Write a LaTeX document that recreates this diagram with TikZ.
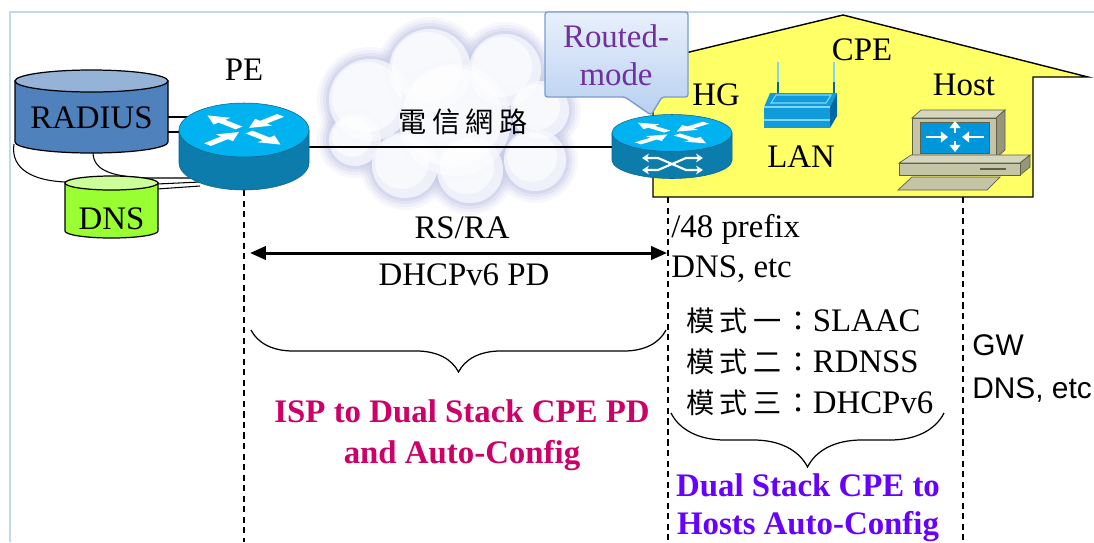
\documentclass[tikz,border=0pt]{standalone}
\usepackage{fontspec}
\setmainfont{Liberation Serif}
\setsansfont{Liberation Sans}
\newfontfamily\cjk{Noto Sans CJK TC}
\usetikzlibrary{arrows.meta,decorations.pathreplacing}

\definecolor{frameblue}{RGB}{197,215,238}
\definecolor{houseyellow}{RGB}{255,255,102}
\definecolor{radside}{RGB}{79,129,189}
\definecolor{radtop}{RGB}{149,179,215}
\definecolor{dnsside}{RGB}{153,255,51}
\definecolor{dnstop}{RGB}{204,255,153}
\definecolor{rtop}{RGB}{0,178,240}
\definecolor{rside}{RGB}{12,124,172}
\definecolor{cloudedge}{RGB}{200,205,232}
\definecolor{cloudbody}{RGB}{246,247,253}
\definecolor{calloutedge}{RGB}{120,158,208}
\definecolor{callouttop}{RGB}{232,240,251}
\definecolor{calloutbot}{RGB}{184,208,240}
\definecolor{routedpurple}{RGB}{112,48,160}
\definecolor{ispmagenta}{RGB}{204,0,102}
\definecolor{cpeviolet}{RGB}{102,0,255}
\definecolor{lanblue}{RGB}{16,156,218}
\definecolor{landark}{RGB}{0,104,160}
\definecolor{lanlight}{RGB}{130,214,244}
\definecolor{pcface}{RGB}{196,196,166}
\definecolor{pctop}{RGB}{214,214,190}
\definecolor{pcside}{RGB}{150,150,120}
\definecolor{pcline}{RGB}{95,95,75}
\definecolor{screenblue}{RGB}{0,150,220}

% cylinder: centre x, top y, bottom y, rx, ry, side colour, top colour, extra options
\newcommand\dbcyl[8]{%
  \path[fill=#6,#8] (#1-#4,#2) -- (#1-#4,#3)
     arc[start angle=180,end angle=0,x radius=#4,y radius=#5] -- (#1+#4,#2) -- cycle;
  \path[fill=#7,#8] (#1,#2) ellipse[x radius=#4,y radius=#5];
}
% white arrows on the top face of a router symbol
\newcommand\routerarrows[4]{%
  \begin{scope}[shift={(#1,#2)},xscale=#3,yscale=#4]
    \foreach \a in {135,315}{% outward
      \fill[white,rotate=\a] (0.12,-0.08) -- (0.52,-0.08) -- (0.52,-0.2) -- (0.86,0)
        -- (0.52,0.2) -- (0.52,0.08) -- (0.12,0.08) -- cycle;}
    \foreach \a in {45,225}{% inward
      \fill[white,rotate=\a] (0.86,-0.08) -- (0.46,-0.08) -- (0.46,-0.2) -- (0.12,0)
        -- (0.46,0.2) -- (0.46,0.08) -- (0.86,0.08) -- cycle;}
  \end{scope}
}
\newcommand\cloudpuffs{370/100/45,430/70/45,505/70/40,540/110/33,535/160/35,
  470/170/37,405/165/37,355/140/30,455/120/60}

\tikzset{
  txt/.style={inner sep=0pt,font=\fontsize{18.7}{22}\selectfont},
  bold/.style={txt,font=\fontsize{18.7}{22}\selectfont\bfseries},
  conn/.style={draw=black,line width=0.6pt},
  guide/.style={draw=black,line width=0.6pt,dash pattern=on 3.5pt off 2.5pt},
  bracepath/.style={draw=black,line width=0.7pt,decorate,
     decoration={brace,mirror,amplitude=#1}},
}

\begin{document}
\begin{tikzpicture}[x=0.02cm,y=-0.02cm]
\useasboundingbox (0,0) rectangle (1094,542);
\fill[white] (0,0) rectangle (1094,542);

% slide frame
\draw[frameblue,line width=1.7pt] (10,542) -- (10,12) -- (1094,12);

% customer premises (house)
\draw[fill=houseyellow,line width=0.8pt] (653,197) -- (653,76) -- (598,74) -- (843,15)
   -- (1088,77) -- (1033,77) -- (1033,197) -- cycle;

% telecom network cloud, soft rim first, then the body
\foreach \r/\o in {10/0.12,7/0.2,4/0.3,1/0.45}{
  \foreach \cx/\cy/\rad in \cloudpuffs{
    \fill[cloudedge,opacity=\o] (\cx,\cy) circle[radius=\rad+\r-2];}}
\foreach \cx/\cy/\rad in \cloudpuffs{
  \fill[cloudbody,opacity=0.8] (\cx,\cy) circle[radius=\rad-4];}
\foreach \cx/\cy/\rad in \cloudpuffs{
  \fill[white,opacity=0.6] (\cx-3,\cy-3) circle[radius=\rad-10];}
\node[txt,font=\cjk\fontsize{16}{18}\selectfont] (net) at (463,122)
   {電\hspace{3pt}信\hspace{3pt}網\hspace{3pt}路};

% vertical timeline guides
\coordinate (pe-bot) at (244,190);
\coordinate (pe-end) at (244,542);
\coordinate (hg-bot) at (668,197);
\coordinate (hg-end) at (668,542);
\coordinate (host-bot) at (963,197);
\coordinate (host-end) at (963,542);
\draw[guide] (pe-bot) -- (pe-end);
\draw[guide] (hg-bot) -- (hg-end);
\draw[guide] (host-bot) -- (host-end);

% PE -- HG link
\coordinate (pe-e) at (300,147);
\coordinate (hg-w) at (620,147);
\draw[conn,line width=0.8pt] (pe-e) -- (hg-w);

% RADIUS / DNS links to PE
\coordinate (rad-e1) at (167,117);
\coordinate (rad-e2) at (167,132);
\coordinate (pe-w1) at (195,117);
\coordinate (pe-w2) at (195,132);
\coordinate (rad-sw) at (14,144);
\coordinate (rad-s) at (93,152);
\coordinate (dns-nw) at (66,182);
\coordinate (dns-ne1) at (157,184);
\coordinate (dns-ne2) at (157,189);
\coordinate (pe-sw1) at (200,178);
\coordinate (pe-sw2) at (200,182);
\coordinate (pe-sw3) at (200,186);
\draw[conn] (rad-e1) -- (pe-w1);
\draw[conn] (rad-e2) -- (pe-w2);
\draw[conn] (rad-sw) .. controls (10,170) and (35,181) .. (dns-nw);
\draw[conn] (rad-s) .. controls (93,172) and (115,177) .. (150,178) -- (pe-sw1);
\draw[conn] (dns-ne1) -- (pe-sw2);
\draw[conn] (dns-ne2) -- (pe-sw3);

% RADIUS and DNS servers
\dbcyl{91.5}{81}{142}{76.5}{11}{radside}{radtop}{draw=black,line width=0.7pt}
\node[txt] (radius) at (91.5,118) {RADIUS};
\dbcyl{111.5}{183}{231}{46.5}{7}{dnsside}{dnstop}{draw=black,line width=0.7pt}
\node[txt] (dns) at (111.5,219) {DNS};

% PE router
\dbcyl{244}{130}{163}{65}{27}{rside}{rtop}{draw=rside!80!black,line width=0.3pt}
\routerarrows{244}{130}{60}{24}
\node[txt,anchor=base] (pe) at (244,80) {PE};

% HG router
\dbcyl{672}{133}{160}{60}{18.5}{rside}{rtop}{draw=rside!80!black,line width=0.3pt}
\routerarrows{672}{133}{56}{17}
\draw[white,line width=1.2pt,{Stealth[length=4pt,width=5pt]}-{Stealth[length=4pt,width=5pt]}]
  (642,158) -- (658,158) -- (686,170) -- (703,170);
\draw[white,line width=1.2pt,{Stealth[length=4pt,width=5pt]}-{Stealth[length=4pt,width=5pt]}]
  (642,170) -- (658,170) -- (686,158) -- (703,158);
\node[txt,anchor=base] (hg) at (716,105) {HG};

% Routed-mode callout
\shade[top color=callouttop,bottom color=calloutbot,draw=calloutedge,line width=0.8pt,
  rounded corners=1.5pt]
  (545,12) -- (688,12) -- (688,97) -- (662,97) -- (651,115) -- (625,97) -- (545,97) -- cycle;
\node[txt,text=routedpurple,anchor=base] (routed1) at (616,47) {Routed-};
\node[txt,text=routedpurple,anchor=base] (routed2) at (616,85) {mode};

% wireless LAN access point
\draw[lanlight,line width=1.2pt] (778,62) -- (778,82);
\draw[landark,line width=1.2pt] (778,82) -- (778,97);
\draw[lanlight,line width=1.2pt] (834,62) -- (834,82);
\draw[landark,line width=1.2pt] (834,82) -- (834,97);
\fill[lanblue] (770,93) -- (837,93) -- (830,107) -- (764,107) -- cycle;
\draw[lanlight,line width=0.6pt] (776,95) -- (831,95) -- (826,103) -- (771,103) -- cycle;
\fill[lanblue] (764,107) rectangle (830,128);
\draw[lanlight,line width=0.8pt] (764,107) -- (830,107);
\draw[lanlight,line width=0.8pt] (764,120) -- (830,120);
\fill[landark] (830,107) -- (837,93) -- (837,116) -- (830,128) -- cycle;
\node[txt,anchor=base] (lan) at (801,167) {LAN};
\node[txt,anchor=base] (cpe) at (862,60) {CPE};

% host computer
\begin{scope}[draw=pcline,line width=0.4pt]
  \filldraw[fill=pctop] (912,118) -- (921,110) -- (1005,110) -- (996,118) -- cycle;
  \filldraw[fill=pcside] (996,118) -- (1005,110) -- (1005,150) -- (996,158) -- cycle;
  \filldraw[fill=pcface] (912,118) rectangle (996,158);
  \filldraw[fill=screenblue,draw=pcline] (920,122) rectangle (989,153);
  \filldraw[fill=pctop] (899,163) -- (911,155) -- (1030,155) -- (1020,163) -- cycle;
  \filldraw[fill=pcside] (1020,163) -- (1030,155) -- (1030,167) -- (1020,175) -- cycle;
  \filldraw[fill=pcface] (899,163) rectangle (1020,175);
  \draw[line width=0.8pt] (980,169) -- (1006,169);
  \filldraw[fill=pcface] (898,190) -- (912,177) -- (1000,177) -- (987,190) -- cycle;
\end{scope}
\begin{scope}[white,line width=1.6pt,-{Triangle[length=4pt,width=6pt]}]
  \draw (926,137) -- (948,137);
  \draw (984,137) -- (962,137);
  \draw (955,133) -- (955,121);
  \draw (955,141) -- (955,152);
\end{scope}
\node[txt,anchor=base] (host) at (964,95) {Host};

% ISP to CPE exchange
\coordinate (arr-l) at (250,253);
\coordinate (arr-r) at (667,253);
\draw[line width=1.7pt,{Triangle[length=9pt,width=7.5pt]}-{Triangle[length=9pt,width=7.5pt]}]
  (arr-l) -- (arr-r);
\node[txt,anchor=base] (rsra) at (462,238) {RS/RA};
\node[txt,anchor=base] (pd) at (464,285) {DHCPv6 PD};

\node[txt,anchor=base west] (prefix) at (671,237) {/48 prefix};
\node[txt,anchor=base west] (dnsetc1) at (671,277) {DNS, etc};

% CPE to hosts modes
\newcommand\modeline[2]{{\cjk\fontsize{16}{18}\selectfont 模\hspace{3pt}式\hspace{3pt}#1\hspace{2pt}：}#2}
\node[txt,anchor=base west] (m1) at (686,331) {\modeline{一}{SLAAC}};
\node[txt,anchor=base west] (m2) at (686,372) {\modeline{二}{RDNSS}};
\node[txt,anchor=base west] (m3) at (686,413) {\modeline{三}{DHCPv6}};

\node[txt,anchor=base west,font=\sffamily\fontsize{17}{20}\selectfont] (gw) at (972,355) {GW};
\node[txt,anchor=base west,font=\sffamily\fontsize{17}{20}\selectfont] (dnsetc2) at (972,398) {DNS, etc};

% braces and captions
\coordinate (b1-l) at (251,330);
\coordinate (b1-r) at (666,330);
\draw[bracepath=0.84cm] (b1-l) -- (b1-r);
\coordinate (b2-l) at (671,413);
\coordinate (b2-r) at (944,413);
\draw[bracepath=1.08cm] (b2-l) -- (b2-r);

\node[bold,text=ispmagenta,anchor=base] (isp1) at (462,422) {ISP to Dual Stack CPE PD};
\node[bold,text=ispmagenta,anchor=base] (isp2) at (462,463) {and Auto-Config};
\node[bold,text=cpeviolet,anchor=base] (cpe1) at (808,496) {Dual Stack CPE to};
\node[bold,text=cpeviolet,anchor=base] (cpe2) at (808,534) {Hosts Auto-Config};
\end{tikzpicture}
\end{document}
